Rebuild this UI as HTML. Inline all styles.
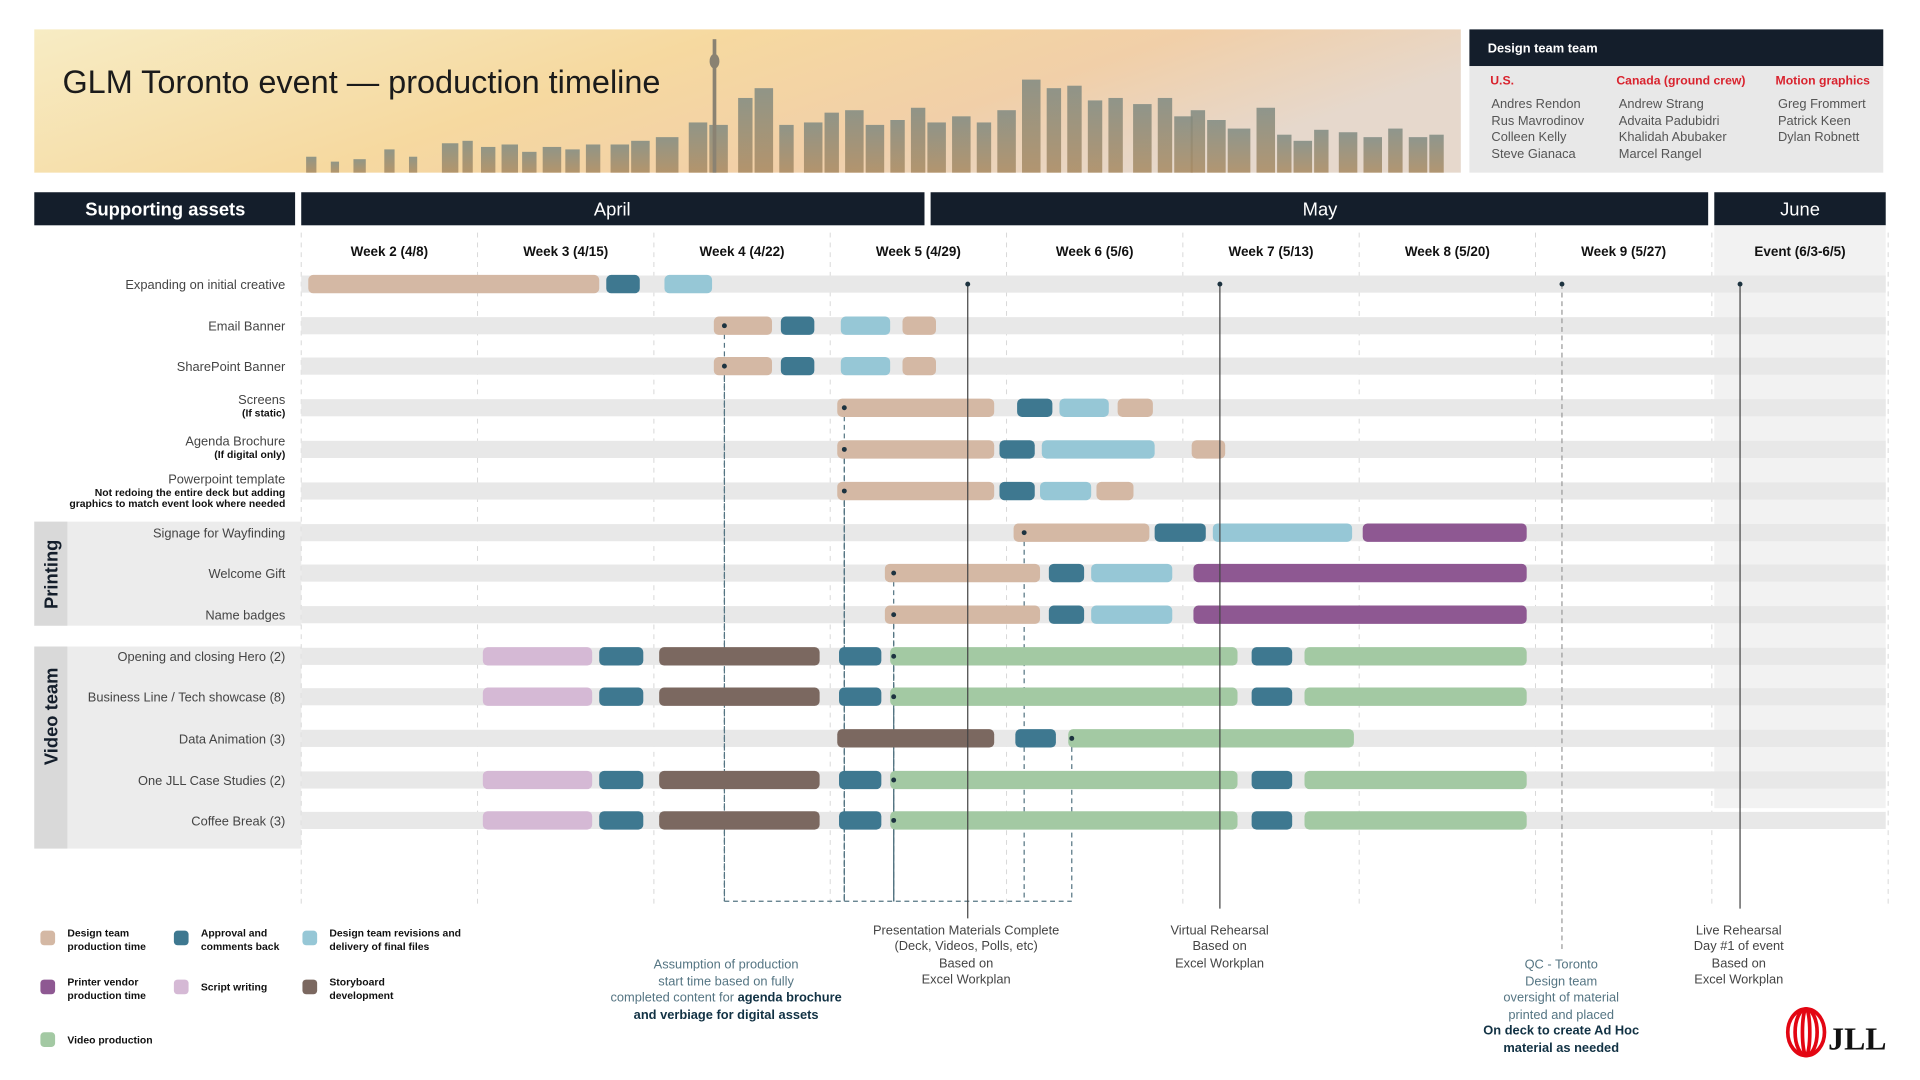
<!DOCTYPE html>
<html><head><meta charset="utf-8"><title>GLM Toronto event — production timeline</title>
<style>
html,body{margin:0;padding:0;background:#fff;}
svg{display:block;font-family:"Liberation Sans Narrow","Liberation Sans",sans-serif;}
</style></head>
<body>
<svg id="chart" width="1920" height="1080" viewBox="0 0 1568 882" xmlns="http://www.w3.org/2000/svg">
<defs>
<linearGradient id="sky" x1="0" y1="0" x2="1" y2="0.3">
<stop offset="0" stop-color="#f7ecc4"/><stop offset="0.45" stop-color="#f6d9a0"/><stop offset="0.75" stop-color="#f1cfa8"/><stop offset="1" stop-color="#e6d8cc"/>
</linearGradient>
<linearGradient id="bld" x1="0" y1="0" x2="0" y2="1"><stop offset="0" stop-color="#7f8a82"/><stop offset="1" stop-color="#a88a62"/></linearGradient>
</defs>
<g>
<rect x="28" y="24" width="1165" height="117" fill="url(#sky)"/>
<g id="skyline"></g>
<text x="51" y="76" font-size="26.5" fill="#1b1b1b">GLM Toronto event — production timeline</text>
</g>
<g>
<rect x="1200" y="24" width="338" height="30" fill="#141e2b"/>
<rect x="1200" y="54" width="338" height="87" fill="#e8e8e8"/>
<text x="1215" y="43" font-size="10.5" font-weight="bold" fill="#fff">Design team team</text>
<g font-size="10" font-weight="bold" fill="#d9232e">
<text x="1217" y="69">U.S.</text><text x="1320" y="69">Canada (ground crew)</text><text x="1450" y="69">Motion graphics</text></g>
<g font-size="10.5" fill="#555">
<text x="1218" y="88">Andres Rendon</text><text x="1218" y="102">Rus Mavrodinov</text><text x="1218" y="115">Colleen Kelly</text><text x="1218" y="129">Steve Gianaca</text>
<text x="1322" y="88">Andrew Strang</text><text x="1322" y="102">Advaita Padubidri</text><text x="1322" y="115">Khalidah Abubaker</text><text x="1322" y="129">Marcel Rangel</text>
<text x="1452" y="88">Greg Frommert</text><text x="1452" y="102">Patrick Keen</text><text x="1452" y="115">Dylan Robnett</text></g>
</g>
<g>
<rect x="28" y="157" width="213" height="27" fill="#141e2b"/>
<rect x="246" y="157" width="509" height="27" fill="#141e2b"/>
<rect x="760" y="157" width="635" height="27" fill="#141e2b"/>
<rect x="1400" y="157" width="140" height="27" fill="#141e2b"/>
<g font-size="15" fill="#fff" text-anchor="middle" font-weight="bold">
<text x="135" y="176">Supporting assets</text>
<text x="500" y="176" font-weight="normal">April</text>
<text x="1078" y="176" font-weight="normal">May</text>
<text x="1470" y="176" font-weight="normal">June</text></g>
</g>
<rect x="1400" y="184" width="140" height="476" fill="#f2f2f2"/>
<g>
<rect x="28" y="426" width="218" height="85" fill="#ececec"/><rect x="28" y="426" width="27" height="85" fill="#d9d9d9"/>
<text x="47" y="469" font-size="15" font-weight="bold" fill="#141e2b" text-anchor="middle" transform="rotate(-90 47 469)">Printing</text></g>
<g>
<rect x="28" y="528" width="218" height="165" fill="#ececec"/><rect x="28" y="528" width="27" height="165" fill="#d9d9d9"/>
<text x="47" y="585" font-size="15" font-weight="bold" fill="#141e2b" text-anchor="middle" transform="rotate(-90 47 585)">Video team</text></g>
<g id="grid"></g><g id="rows"></g><g id="deps"></g><g id="bars"></g><g id="dots"></g>
<g font-size="10.5" text-anchor="middle">
<g fill="#557583"><text x="593" y="791">Assumption of production</text><text x="593" y="805">start time based on fully</text><text x="593" y="818">completed content for <tspan font-weight="bold" fill="#123244">agenda brochure</tspan></text><text x="593" y="832" font-weight="bold" fill="#123244">and verbiage for digital assets</text></g>
<g fill="#444"><text x="789" y="763">Presentation Materials Complete</text><text x="789" y="776">(Deck, Videos, Polls, etc)</text><text x="789" y="790">Based on</text><text x="789" y="803">Excel Workplan</text>
<text x="996" y="763">Virtual Rehearsal</text><text x="996" y="776">Based on</text><text x="996" y="790">Excel Workplan</text>
<text x="1420" y="763">Live Rehearsal</text><text x="1420" y="776">Day #1 of event</text><text x="1420" y="790">Based on</text><text x="1420" y="803">Excel Workplan</text></g>
<g fill="#557583"><text x="1275" y="791">QC - Toronto</text><text x="1275" y="805">Design team</text><text x="1275" y="818">oversight of material</text><text x="1275" y="832">printed and placed</text></g>
<g fill="#123244" font-weight="bold"><text x="1275" y="845">On deck to create Ad Hoc</text><text x="1275" y="859">material as needed</text></g>
</g>
<g id="legend"></g>
<g>
<g fill="none" stroke="#e30613" stroke-width="3"><ellipse cx="1475" cy="843" rx="15" ry="19"/><ellipse cx="1475" cy="843" rx="9" ry="19"/><ellipse cx="1475" cy="843" rx="3" ry="19"/></g>
<text x="1493" y="857" font-family="Liberation Serif,serif" font-weight="bold" font-size="26" fill="#111">JLL</text></g>
</svg>
<script>
const NS='http://www.w3.org/2000/svg';
const weekLabels=['Week 2 (4/8)','Week 3 (4/15)','Week 4 (4/22)','Week 5  (4/29)','Week 6 (5/6)','Week 7 (5/13)','Week 8 (5/20)','Week 9 (5/27)','Event (6/3-6/5)'];
const rowLabels=['Expanding on initial creative','Email Banner','SharePoint Banner','Screens','Agenda Brochure','Powerpoint template','Signage for Wayfinding','Welcome Gift','Name badges','Opening and closing Hero (2)','Business Line / Tech showcase (8)','Data Animation (3)','One JLL Case Studies (2)','Coffee Break (3)'];
const rowSubLabels=['','','','(If static)','(If digital only)','Not redoing the entire deck but adding|graphics to match event look where needed','','','','','','','',''];
const categoryNames=['Design team production time','Approval and comments back','Design team revisions and delivery of final files','Printer vendor production time','Script writing','Storyboard development','Video production'];
const categoryColors=['#d4b8a4','#3e7890','#96c7d6','#8e5892','#d5b9d5','#7b6860','#a3c9a3'];
// tasks: [row, category, startWeek, endWeek]
const tasks=[
[0,0,0.04,1.69],[0,1,1.73,1.92],[0,2,2.06,2.33],
[1,0,2.34,2.67],[1,1,2.72,2.91],[1,2,3.06,3.34],[1,0,3.41,3.60],
[2,0,2.34,2.67],[2,1,2.72,2.91],[2,2,3.06,3.34],[2,0,3.41,3.60],
[3,0,3.04,3.93],[3,1,4.06,4.26],[3,2,4.30,4.58],[3,0,4.63,4.83],
[4,0,3.04,3.93],[4,1,3.96,4.16],[4,2,4.20,4.84],[4,0,5.05,5.24],
[5,0,3.04,3.93],[5,1,3.96,4.16],[5,2,4.19,4.48],[5,0,4.51,4.72],
[6,0,4.04,4.81],[6,1,4.84,5.13],[6,2,5.17,5.96],[6,3,6.02,6.95],
[7,0,3.31,4.19],[7,1,4.24,4.44],[7,2,4.48,4.94],[7,3,5.06,6.95],
[8,0,3.31,4.19],[8,1,4.24,4.44],[8,2,4.48,4.94],[8,3,5.06,6.95],
[9,4,1.03,1.65],[9,1,1.69,1.94],[9,5,2.03,2.94],[9,1,3.05,3.29],[9,6,3.34,5.31],[9,1,5.39,5.62],[9,6,5.69,6.95],
[10,4,1.03,1.65],[10,1,1.69,1.94],[10,5,2.03,2.94],[10,1,3.05,3.29],[10,6,3.34,5.31],[10,1,5.39,5.62],[10,6,5.69,6.95],
[11,5,3.04,3.93],[11,1,4.05,4.28],[11,6,4.35,5.97],
[12,4,1.03,1.65],[12,1,1.69,1.94],[12,5,2.03,2.94],[12,1,3.05,3.29],[12,6,3.34,5.31],[12,1,5.39,5.62],[12,6,5.69,6.95],
[13,4,1.03,1.65],[13,1,1.69,1.94],[13,5,2.03,2.94],[13,1,3.05,3.29],[13,6,3.34,5.31],[13,1,5.39,5.62],[13,6,5.69,6.95]];
// start-dependency dots: [row, week]
const startDots=[[1,2.40],[2,2.40],[3,3.08],[4,3.08],[5,3.08],[6,4.10],[7,3.36],[8,3.36],[9,3.36],[10,3.36],[11,4.37],[12,3.36],[13,3.36]];
// milestones: [week, dashed]
const milestoneWeeks=[3.78,5.21,7.15,8.16];
const milestoneDashed=[0,0,1,0];
const milestoneEndY=[750,742,777,742];

const X0=246,WK=144;
const xs=w=>X0+w*WK;
const rowY=[232,266,299,333,367,401,435,468,502,536,569,603,637,670];
const ys=r=>rowY[r];
function el(tag,attrs,parent){const e=document.createElementNS(NS,tag);for(const k in attrs)e.setAttribute(k,attrs[k]);parent.appendChild(e);return e;}
const grid=document.getElementById('grid'),rows=document.getElementById('rows'),bars=document.getElementById('bars'),dots=document.getElementById('dots'),deps=document.getElementById('deps');
for(let i=0;i<=9;i++){const l=el('line',{x1:xs(i),x2:xs(i),y1:190,y2:740,stroke:'#d8d8d8','stroke-dasharray':'4 4','stroke-width':0.8},grid);

}
weekLabels.forEach((t,i)=>{const tx=el('text',{x:xs(i+0.5),y:209,'font-size':11,'font-weight':'bold','text-anchor':'middle',fill:'#111'},grid);tx.textContent=t;

});
rowLabels.forEach((t,r)=>{const y=ys(r);
const b=el('rect',{x:246,y:y-7,width:1294,height:14,fill:'#e8e8e8'},rows);


const sub=rowSubLabels[r];let ly=y+4;
if(sub){ly=sub.includes('|')?y-6:y-3;}
const tx=el('text',{x:233,y:ly,'font-size':10.5,'text-anchor':'end',fill:'#444'},rows);tx.textContent=t;


if(sub){sub.split('|').forEach((s,k)=>{const st=el('text',{x:233,y:ly+(sub.includes('|')?10+k*9:10),'font-size':8.5,'font-weight':'bold','text-anchor':'end',fill:'#111'},rows);st.textContent=s;

});}
});
startDots.forEach(([r,w])=>{const l=el('line',{x1:xs(w),x2:xs(w),y1:ys(r),y2:736,stroke:'#557583','stroke-dasharray':'4 3','stroke-width':1},deps);

});
const minW=Math.min(...startDots.map(d=>d[1])),maxW=Math.max(...startDots.map(d=>d[1]));
const hl=el('line',{x1:xs(minW),x2:xs(maxW),y1:736,y2:736,stroke:'#557583','stroke-dasharray':'4 3','stroke-width':1},deps);


tasks.forEach(([r,c,s,e])=>{const b=el('rect',{x:xs(s),y:ys(r)-7.5,width:xs(e)-xs(s),height:15,rx:4,fill:categoryColors[c]},bars);

});
startDots.forEach(([r,w])=>{const d=el('circle',{cx:xs(w),cy:ys(r),r:2,fill:'#1d3340'},dots);

});
milestoneWeeks.forEach((w,i)=>{const l=el('line',{x1:xs(w),x2:xs(w),y1:ys(0),y2:milestoneEndY[i],stroke:milestoneDashed[i]?'#999':'#444','stroke-width':1,'stroke-dasharray':milestoneDashed[i]?'4 3':'none'},dots);


const d=el('circle',{cx:xs(w),cy:ys(0),r:2,fill:'#1d3340'},dots);

});
const lg=document.getElementById('legend');
const legPos=[[33,766],[142,766],[247,766],[33,806],[142,806],[247,806],[33,849]];
const legLines=[['Design team','production time'],['Approval and','comments back'],['Design team revisions and','delivery of final files'],['Printer vendor','production time'],['Script writing'],['Storyboard','development'],['Video production']];
categoryNames.forEach((n,i)=>{const [x,y]=legPos[i];const g=el('g',{},lg);


el('rect',{x:x,y:y-6,width:12,height:12,rx:3,fill:categoryColors[i]},g);
const L=legLines[i];L.forEach((s,k)=>{const t=el('text',{x:x+22,y:y+(L.length>1?-1+k*11:3),'font-size':8.5,'font-weight':'bold',fill:'#111'},g);t.textContent=s;});});
// decorative skyline spread from x=250 to x=1190
const sk=el('g',{transform:'translate(250 0) scale(1.68 1) translate(-390 0)'},document.getElementById('skyline'));
const blds=[[110,6,128],[122,5,132],[133,7,130],[148,6,122],[160,5,128],[176,9,117],[186,6,115],[195,8,120],[205,9,118],[215,8,124],[225,10,120],[236,8,122],[246,8,118],[258,10,118],[268,10,115],[280,12,112],[296,10,100],[306,10,102],[320,8,80],[328,10,72],[340,8,102],[352,10,100],[362,8,92],[372,10,90],[382,10,102],[394,8,98],[404,8,88],[412,10,100],[424,10,95],[436,8,100],[446,10,90],[458,10,65],[470,8,72],[480,8,70],[490,8,82],[500,8,80],[512,10,85],[524,8,80],[532,10,95],[540,8,90],[548,10,98],[558,12,105],[572,10,88],[582,8,110],[590,10,115],[600,8,106],[612,10,108],[624,10,112],[636,8,105],[646,10,112],[656,8,110]];
blds.forEach(([x,w,t])=>{el('rect',{x:280+x,y:t,width:w-1,height:141-t,fill:'url(#bld)',opacity:0.85},sk);});
const sk2=document.getElementById('skyline');
el('rect',{x:582,y:32,width:3,height:109,fill:'#8a8272'},sk2);
el('ellipse',{cx:583.5,cy:50,rx:4,ry:6,fill:'#8a8272'},sk2);
</script>
</body></html>
